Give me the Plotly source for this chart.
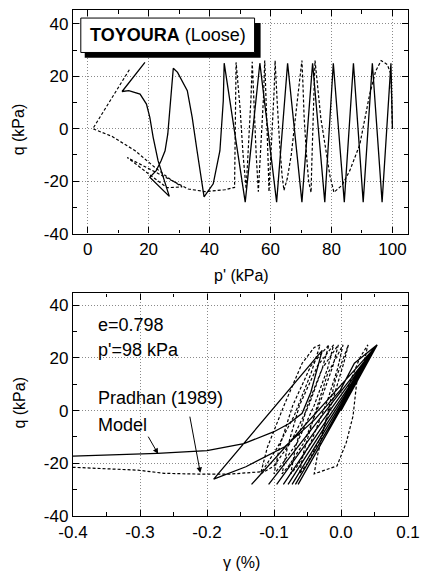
import plotly.graph_objects as go

# ---------------- data: top panel (p' vs q) ----------------
p_model = [100, 99.5, 96.6, 93.4, 90.4, 87.2, 84.2, 80.6, 77.8, 73.8, 70.3, 65.6, 62.0, 56.5, 51.7,
           44.8, 44.5, 43.4, 41.2, 38.2, 35.9, 34.3, 32.7, 29.5, 28.1, 27.3, 26.3, 25.4, 24.1, 22.5,
           20.4, 26.8, 24.7, 23.1, 21.5, 20.4, 19.3, 17.2, 13.5, 11.3, 18.8]
q_model = [0, 25, -28, 25, -28, 25, -28, 25, -28, 25, -28, 25, -28, 25, -28,
           25, 10.7, -8.4, -21, -26, -8.4, 4.3, 14.5, 21.5, 23.1, 10.7, -2, -8.4, -12.2, -16,
           -18.5, -25.8, -18.5, -12.2, -3.3, 4.3, 9.4, 13.2, 14.5, 14.2, 25.3]

p_exp = [100, 99.8, 99.5, 98.3, 96.3, 94.5, 92.5, 89.3, 86.0, 83.5, 80.8,
         79.5, 78.7, 76.5, 75.3, 74.6,
         74.2, 73.8, 73.5, 73.3,
         72.5, 71.8, 71.0, 70.6, 70.3,
         69.5, 68.3, 66.8, 65.5, 64.4,
         63.8, 63.0, 62.2, 61.5,
         61.2, 60.6, 60.0, 59.5,
         59.2, 58.7, 58.1,
         57.7, 57.0, 56.5, 56.0,
         55.3, 54.6, 54.0,
         53.6, 53.0, 52.5, 52.0,
         51.0, 50.0, 48.7,
         48.6, 48.4, 48.2,
         45.0, 41.0, 38.5, 33.0, 13.0, 26.0, 31.0, 27.0, 22.0, 15.6, 8.1, 1.7, 14.0]
q_exp = [0, 12, 20.8, 24.5, 26, 22, 13, -6, -16, -21.5, -24.3,
         -18, -12, 4, 18, 26,
         12, 0, -15, -24.3,
         -20, -10, 5, 18, 26,
         18, 5, -10, -19, -23.5,
         -18, -6, 10, 26,
         15, 0, -15, -24,
         -12, 5, 26,
         12, -3, -16, -24,
         -10, 8, 25.5,
         12, -2, -14, -23,
         -10, 8, 25.3,
         10, -10, -22.4,
         -23.3, -23.8, -24, -23, -11, -22.5, -22.2, -19.2, -14.7, -8.4, -3, 0, 23.1]

# ---------------- data: bottom panel (gamma vs q) ----------------
g_model = [0, 0.054, -0.064, 0.054, -0.068, 0.054, -0.073, 0.054, -0.079, 0.054, -0.086, 0.054,
           -0.096, 0.054, -0.108, 0.054, -0.1335, 0.054,
           0.020, -0.001, -0.040, -0.084, -0.142, -0.190,
           -0.028, -0.035, -0.045, -0.058, -0.078, -0.100, -0.145, -0.200, -0.274, -0.400]
qg_model = [0, 25, -28, 25, -28, 25, -28, 25, -28, 25, -28, 25,
            -28, 25, -28, 25, -28, 25,
            18, 7.8, -3.6, -13.7, -21.3, -26,
            22.9, 16, 7, -1, -5, -8, -12.5, -15.2, -16.2, -17.3]

g_exp = [0, 0.012, 0.028, 0.040,
         0.036, 0.024, 0.018, 0.008, -0.006, -0.040,
         -0.036, -0.024, -0.008, 0.011,
         0.004, -0.010, -0.030, -0.050, -0.062,
         -0.056, -0.040, -0.020, 0.003,
         -0.005, -0.020, -0.045, -0.065, -0.075,
         -0.068, -0.050, -0.028, -0.004,
         -0.012, -0.030, -0.055, -0.078, -0.088,
         -0.080, -0.062, -0.035, -0.011,
         -0.020, -0.040, -0.065, -0.090, -0.100,
         -0.092, -0.072, -0.045, -0.018,
         -0.028, -0.048, -0.075, -0.100, -0.120,
         -0.110, -0.085, -0.058, -0.040, -0.031,
         -0.045, -0.070, -0.095, -0.118, -0.167, -0.210, -0.264, -0.303, -0.400]
qg_exp = [0, 10, 20, 25,
          20, 12, -2, -12, -21, -24,
          -18, -5, 12, 25,
          18, 6, -10, -20, -24,
          -16, -2, 14, 25,
          16, 4, -12, -21, -24,
          -14, 2, 16, 25,
          17, 4, -12, -21, -24,
          -14, 2, 17, 25,
          16, 2, -12, -21, -24,
          -14, 2, 17, 25,
          16, 2, -12, -21, -24,
          -14, 2, 18, 24, 25,
          14, -2, -14, -23.2, -24.1, -24.1, -23.8, -22.6, -21.5]

# ---------------- tick labels ----------------
p_ticks = [0, 20, 40, 60, 80, 100]
p_ticklabels = ["0", "20", "40", "60", "80", "100"]
q_ticks = [-40, -20, 0, 20, 40]
q_ticklabels = ["-40", "-20", "0", "20", "40"]
g_ticks = [-0.4, -0.3, -0.2, -0.1, 0.0, 0.1]
g_ticklabels = ["-0.4", "-0.3", "-0.2", "-0.1", "0.0", "0.1"]

FONT = "Liberation Sans, Arial, Helvetica, sans-serif"
solid = dict(color="black", width=1.3)
dashed = dict(color="black", width=1.2, dash="3px,2px")

fig = go.Figure()
fig.add_trace(go.Scatter(x=p_exp, y=q_exp, mode="lines", line=dashed, xaxis="x", yaxis="y",
                         name="Pradhan (1989)"))
fig.add_trace(go.Scatter(x=p_model, y=q_model, mode="lines", line=solid, xaxis="x", yaxis="y",
                         name="Model"))
fig.add_trace(go.Scatter(x=g_exp, y=qg_exp, mode="lines", line=dashed, xaxis="x2", yaxis="y2",
                         name="Pradhan (1989)"))
fig.add_trace(go.Scatter(x=g_model, y=qg_model, mode="lines", line=solid, xaxis="x2", yaxis="y2",
                         name="Model"))


def ax_style(**kw):
    d = dict(
        ticks="inside", ticklen=6, tickwidth=1, tickcolor="black",
        mirror="allticks", showline=True, linecolor="black", linewidth=1.3,
        showgrid=True, gridcolor="#8a8a8a", griddash="1px,2px", gridwidth=1,
        zeroline=False, tickfont=dict(family=FONT, size=17, color="black"),
        tickmode="array",
    )
    d.update(kw)
    return d


fig.update_layout(
    width=429, height=571,
    margin=dict(l=73, r=13, t=9, b=55),
    paper_bgcolor="white", plot_bgcolor="white",
    showlegend=False,
    font=dict(family=FONT, color="black"),
    xaxis=ax_style(domain=[0, 1], anchor="y", range=[-4.8, 105.1],
                   tickvals=p_ticks, ticktext=p_ticklabels,
                   minor=dict(tick0=0, dtick=10, ticks="inside", ticklen=3.5, tickcolor="black", showgrid=False)),
    yaxis=ax_style(domain=[0.5582, 1], anchor="x", range=[-40, 45.3],
                   tickvals=q_ticks, ticktext=q_ticklabels,
                   minor=dict(tick0=0, dtick=10, ticks="inside", ticklen=3.5, tickcolor="black", showgrid=False)),
    xaxis2=ax_style(domain=[0, 1], anchor="y2", range=[-0.4, 0.1],
                    tickvals=g_ticks, ticktext=g_ticklabels,
                    minor=dict(tick0=0, dtick=0.05, ticks="inside", ticklen=3.5, tickcolor="black", showgrid=False)),
    yaxis2=ax_style(domain=[0, 0.4398], anchor="x2", range=[-40, 44.5],
                    tickvals=q_ticks, ticktext=q_ticklabels,
                    minor=dict(tick0=0, dtick=10, ticks="inside", ticklen=3.5, tickcolor="black", showgrid=False)),
)

# axis titles (placed as paper annotations for exact positioning)
title_font = dict(family=FONT, size=16, color="black")
fig.add_annotation(xref="paper", yref="paper", x=0.5015, y=0.4753, text="p' (kPa)", showarrow=False,
                   xanchor="center", yanchor="middle", font=title_font)
fig.add_annotation(xref="paper", yref="paper", x=0.5015, y=-0.0927, text="γ (%)", showarrow=False,
                   xanchor="center", yanchor="middle", font=title_font)
fig.add_annotation(xref="paper", yref="paper", x=-0.160, y=0.765, text="q (kPa)", showarrow=False,
                   xanchor="center", yanchor="middle", textangle=-90, font=title_font)
fig.add_annotation(xref="paper", yref="paper", x=-0.160, y=0.2249, text="q (kPa)", showarrow=False,
                   xanchor="center", yanchor="middle", textangle=-90, font=title_font)

# label box with drop shadow (top panel)
fig.add_shape(type="rect", xref="x domain", yref="y domain", x0=0.035, x1=0.56, y0=0.786, y1=0.942,
              fillcolor="black", line=dict(width=0), layer="above")
fig.add_shape(type="rect", xref="x domain", yref="y domain", x0=0.0233, x1=0.542, y0=0.810, y1=0.964,
              fillcolor="white", line=dict(color="black", width=1), layer="above")
fig.add_annotation(xref="x domain", yref="y domain", x=0.283, y=0.887, xanchor="center", yanchor="middle",
                   showarrow=False, text="<b>TOYOURA</b> (Loose)",
                   font=dict(family=FONT, size=18, color="black"))

# bottom panel texts
for txt, yy in [("e=0.798", 0.857), ("p'=98 kPa", 0.744), ("Pradhan (1989)", 0.529), ("Model", 0.408)]:
    fig.add_annotation(xref="x2 domain", yref="y2 domain", x=0.068, y=yy, xanchor="left", yanchor="middle",
                       showarrow=False, text=txt, font=dict(family=FONT, size=18, color="black"))

# arrows
fig.add_annotation(xref="x2", yref="y2", axref="x2", ayref="y2", x=-0.273, y=-16.4, ax=-0.289, ay=-9.3,
                   text="", showarrow=True, arrowhead=2, arrowsize=1.1, arrowwidth=1, arrowcolor="black")
fig.add_annotation(xref="x2", yref="y2", axref="x2", ayref="y2", x=-0.21, y=-23.6, ax=-0.226, ay=-1.7,
                   text="", showarrow=True, arrowhead=2, arrowsize=1.1, arrowwidth=1, arrowcolor="black")

fig.write_html("out.html")
